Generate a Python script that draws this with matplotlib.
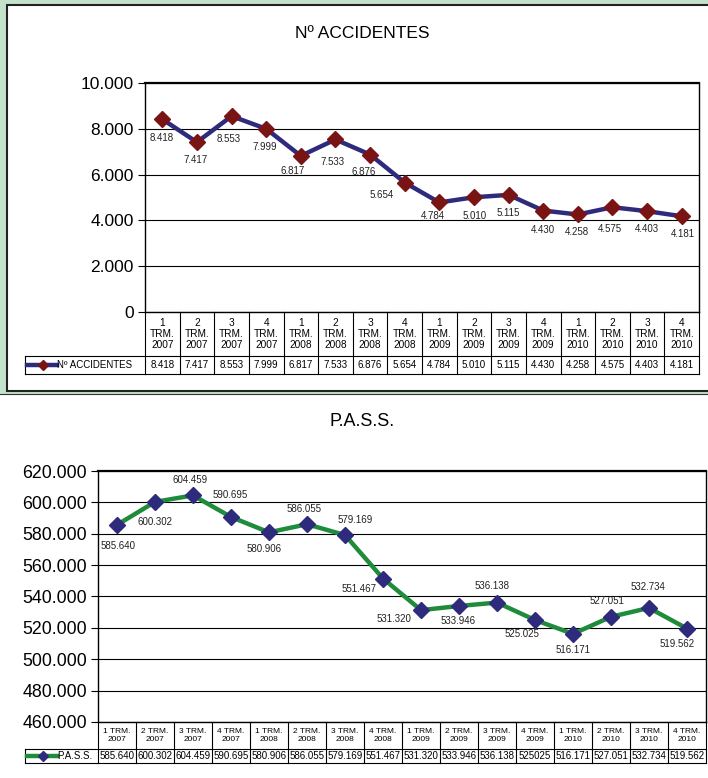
import matplotlib
matplotlib.use("Agg")
import matplotlib.pyplot as plt
from matplotlib.patches import Rectangle
from matplotlib.lines import Line2D

plt.rcParams['font.family'] = ['Liberation Sans', 'DejaVu Sans']

# data
quarters = ["1", "2", "3", "4", "1", "2", "3", "4", "1", "2", "3", "4", "1", "2", "3", "4"]
years = ["2007"] * 4 + ["2008"] * 4 + ["2009"] * 4 + ["2010"] * 4
accidentes = [8418, 7417, 8553, 7999, 6817, 7533, 6876, 5654,
              4784, 5010, 5115, 4430, 4258, 4575, 4403, 4181]
pass_vals = [585640, 600302, 604459, 590695, 580906, 586055, 579169, 551467,
             531320, 533946, 536138, 525025, 516171, 527051, 532734, 519562]
pass_table = ["585.640", "600.302", "604.459", "590.695", "580.906", "586.055",
              "579.169", "551.467", "531.320", "533.946", "536.138", "525025",
              "516.171", "527.051", "532.734", "519.562"]

# label offsets (pixels) for data labels
acc_off = [(-1, -19), (-1, -18), (-3, -23), (-1, -18), (-8, -15), (-3, -23),
           (-6, -17), (-23, -12), (-6, -14), (1, -19), (0, -18), (0, -19),
           (-1, -18), (-3, -22), (0, -18), (1, -18)]
pass_off = [(1, -21), (0, -20), (-3, 15), (-1, 22), (-5, -17), (-3, 15),
            (10, 15), (-24, -10), (-27, -9), (-1, -15), (-5, 17), (-13, -14),
            (0, -16), (-4, 16), (-1, 21), (-10, -15)]

W, H = 708, 778
fig = plt.figure(figsize=(W / 100, H / 100), dpi=100)
fig.patch.set_facecolor("white")


def fr(x0, y0, x1, y1):
    # pixel box (top-left origin) -> figure fraction rect
    return [x0 / W, 1 - y1 / H, (x1 - x0) / W, (y1 - y0) / H]


def num(v):
    return f"{v:,.0f}".replace(",", ".")


# background panel of the first chart
green = "#c3e2cb"
fig.patches.append(Rectangle((0, 1 - 394 / H), 1, 394 / H, transform=fig.transFigure,
                             facecolor=green, edgecolor="none", zorder=-2))
fig.patches.append(Rectangle((7 / W, 1 - 391 / H), 1.1, 386 / H, transform=fig.transFigure,
                             facecolor="white", edgecolor="#222222", lw=1.5, zorder=-1))
fig.add_artist(Line2D([0, 1], [1 - 394 / H] * 2, transform=fig.transFigure, color="#333333", lw=0.8))

navy = "#2e2a7c"
darkred = "#7a1414"
green_line = "#1f8c3c"


def draw_chart(ax, values, col_line, col_mark, ylim, ystep, offsets, title, title_y, title_fs,
               head, head_h, row_h, legend_x0, table_vals, label, head_fs, tick_fs):
    ax.set_zorder(2)
    n = len(values)
    x = list(range(n))
    ax.set_xlim(-0.5, n - 0.5)
    ax.set_ylim(*ylim)
    ticks = list(range(ylim[0], ylim[1] + 1, ystep))
    ax.set_yticks(ticks)
    ax.set_yticklabels([num(t) for t in ticks], fontsize=tick_fs)
    ax.tick_params(axis="y", length=5, width=0.8, pad=3)
    ax.set_xticks([])
    ax.grid(axis="y", color="black", lw=0.8)
    ax.set_axisbelow(True)
    for s in ax.spines.values():
        s.set_color("black")
        s.set_linewidth(1.0)
    ax.spines["top"].set_linewidth(1.6)

    ax.plot(x, values, color=col_line, lw=3.2, marker="D", markersize=8.5,
            markerfacecolor=col_mark, markeredgecolor=col_mark, zorder=3, clip_on=False)
    for xi, v, (dx, dy) in zip(x, values, offsets):
        ax.annotate(num(v), (xi, v), xytext=(dx, dy), textcoords="offset pixels",
                    ha="center", va="center", fontsize=7, color="#222222", zorder=4)

    fig.text(0.5 + 8 / W, 1 - title_y / H, title, ha="center", va="center", fontsize=title_fs,
             zorder=3)

    # table under the axis
    bb = ax.get_position()
    ax_h = bb.height * H
    ax_w = bb.width * W
    hb = -head_h / ax_h
    rb = -(head_h + row_h) / ax_h
    tr = ax.get_xaxis_transform()
    lk = dict(color="black", lw=0.8, clip_on=False)
    for i in range(n + 1):
        ax.plot([i - 0.5, i - 0.5], [0, rb], transform=tr, **lk)
    ax.plot([-0.5, n - 0.5], [hb, hb], transform=tr, **lk)
    ax.plot([-0.5, n - 0.5], [rb, rb], transform=tr, **lk)
    for i in range(n):
        ax.text(i, hb / 2, head[i], transform=tr, ha="center", va="center",
                fontsize=head_fs, linespacing=1.15)
        ax.text(i, (hb + rb) / 2, table_vals[i], transform=tr, ha="center",
                va="center", fontsize=7)
    # legend cell
    lx = (legend_x0 - bb.x0 * W) / ax_w
    ax.plot([lx, 0], [hb, hb], transform=ax.transAxes, **lk)
    ax.plot([lx, 0], [rb, rb], transform=ax.transAxes, **lk)
    ax.plot([lx, lx], [hb, rb], transform=ax.transAxes, **lk)
    ym = (hb + rb) / 2
    sw = 32 / ax_w
    ax.plot([lx + 0.003, lx + sw], [ym, ym], transform=ax.transAxes, color=col_line,
            lw=3.2, clip_on=False)
    ax.plot([lx + sw * 0.55], [ym], transform=ax.transAxes, marker="D", markersize=5,
            color=col_mark, clip_on=False)
    ax.text(lx + sw, ym, label, transform=ax.transAxes, ha="left", va="center", fontsize=7)


ax1 = fig.add_axes(fr(145, 83, 699, 312))
head1 = [f"{q}\nTRM.\n{y}" for q, y in zip(quarters, years)]
draw_chart(ax1, accidentes, navy, darkred, (0, 10000), 2000, acc_off, "Nº ACCIDENTES", 33, 12.5,
           head1, 44, 18, 25, [num(v) for v in accidentes], "Nº ACCIDENTES", 7.3, 12.5)

ax2 = fig.add_axes(fr(98, 471, 706, 722))
head2 = [f"{q} TRM.\n{y}" for q, y in zip(quarters, years)]
draw_chart(ax2, pass_vals, green_line, navy, (460000, 620000), 20000, pass_off, "P.A.S.S.", 422, 13,
           head2, 27, 14, 25, pass_table, "P.A.S.S.", 6, 12.8)

fig.savefig("out.png", dpi=100)
